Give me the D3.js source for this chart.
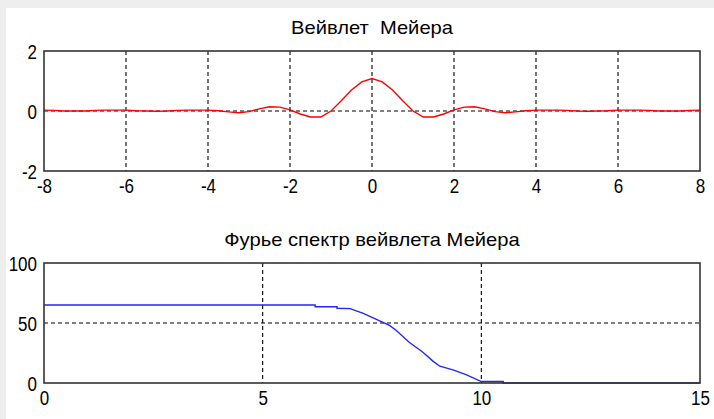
<!DOCTYPE html>
<html>
<head>
<meta charset="utf-8">
<script src="https://cdn.jsdelivr.net/npm/d3@7"></script>
<style>
  html, body { margin: 0; padding: 0; background: #ffffff; }
  svg { display: block; }
  text { font-family: "Liberation Sans", Arial, sans-serif; fill: #000; }
</style>
</head>
<body>
<script>
// Meyer wavelet psi(t), sampled values
const waveT = [-8, -7.75, -7.5, -7.25, -7, -6.75, -6.5, -6.25, -6, -5.75, -5.5, -5.25, -5, -4.75, -4.5, -4.25, -4, -3.75,
  -3.5, -3.25, -3, -2.75, -2.5, -2.25, -2, -1.75, -1.5, -1.25, -1, -0.75, -0.5, -0.25, 0,
  0.25, 0.5, 0.75, 1, 1.25, 1.5, 1.75, 2, 2.25, 2.5, 2.75, 3, 3.25, 3.5, 3.75, 4,
  4.25, 4.5, 4.75, 5, 5.25, 5.5, 5.75, 6, 6.25, 6.5, 6.75, 7, 7.25, 7.5, 7.75, 8];
const waveV = [0.03, 0.02, 0, 0, 0, 0.02, 0.03, 0.03, 0.03, 0.01, 0, -0.01, 0, 0.02, 0.03, 0.03, 0.03, 0.01,
  -0.03, -0.06, -0.02, 0.07, 0.14, 0.13, 0.04, -0.1, -0.2, -0.2, 0.0, 0.34, 0.7, 0.97, 1.08,
  0.97, 0.7, 0.34, 0.0, -0.2, -0.2, -0.1, 0.04, 0.13, 0.14, 0.07, -0.02, -0.06, -0.03, 0.01, 0.03,
  0.03, 0.03, 0.02, 0, -0.01, 0, 0.01, 0.03, 0.03, 0.03, 0.02, 0, 0, 0, 0.02, 0.03];

// Fourier spectrum magnitude of the Meyer wavelet
const specF = [0, 6.2, 6.2, 6.7, 6.7, 7.0, 7.3, 7.9, 8.05, 8.35, 8.65, 8.9, 9.05, 9.35, 9.65, 10.0, 10.5, 10.5, 15];
const specA = [65, 65, 63.6, 63.6, 62.3, 62, 58, 48, 44, 34, 26, 18, 14, 11, 7, 1.2, 1.2, 0, 0];

const waveXTicks = [-8, -6, -4, -2, 0, 2, 4, 6, 8];
const waveYTicks = [-2, 0, 2];
const specXTicks = [0, 5, 10, 15];
const specYTicks = [0, 50, 100];

const titleTop = "Вейвлет  Мейера";
const titleBottom = "Фурье спектр вейвлета Мейера";

const W = 714, H = 419;
const svg = d3.select("body").append("svg").attr("width", W).attr("height", H);
const fmt = d => String(d); // plain hyphen-minus, integer labels

// window frame
svg.append("rect").attr("width", W).attr("height", H).attr("fill", "#eeeeee");
svg.append("rect").attr("x", 6).attr("y", 8).attr("width", W - 6).attr("height", H - 8).attr("fill", "#ffffff");

function panel(opts) {
  const { x0, x1, y0, y1, xDom, yDom, xTicks, yTicks, xs, ys, color, title, titleY } = opts;
  const x = d3.scaleLinear().domain(xDom).range([x0, x1]);
  const y = d3.scaleLinear().domain(yDom).range([y1, y0]);
  const g = svg.append("g");

  // dashed grid
  g.append("g").selectAll("line").data(xTicks.slice(1, -1)).join("line")
    .attr("x1", d => x(d)).attr("x2", d => x(d)).attr("y1", y0).attr("y2", y1)
    .attr("stroke", "#000").attr("stroke-width", 1.1).attr("stroke-dasharray", "4,3");
  g.append("g").selectAll("line").data(yTicks.slice(1, -1)).join("line")
    .attr("y1", d => y(d)).attr("y2", d => y(d)).attr("x1", x0).attr("x2", x1)
    .attr("stroke", "#000").attr("stroke-width", 1.1).attr("stroke-dasharray", "4,3");

  // data line
  const pts = xs.map((v, i) => [v, ys[i]]);
  g.append("path").datum(pts)
    .attr("fill", "none").attr("stroke", color).attr("stroke-width", 1.4)
    .attr("d", d3.line().x(d => x(d[0])).y(d => y(d[1])));

  // box
  g.append("rect").attr("x", x0).attr("y", y0).attr("width", x1 - x0).attr("height", y1 - y0)
    .attr("fill", "none").attr("stroke", "#333").attr("stroke-width", 1.6);

  // axes labels
  const xa = d3.axisBottom(x).tickValues(xTicks).tickFormat(fmt).tickSize(0).tickPadding(0);
  const xg = g.append("g").attr("transform", `translate(0,${y1})`).call(xa);
  xg.select(".domain").remove();
  xg.selectAll("text").attr("font-size", 17).attr("dy", null).attr("y", 0)
    .attr("transform", "translate(0,22) scale(1,1.22)")
    .attr("font-family", '"Liberation Sans", Arial, sans-serif').attr("fill", "#000");

  const ya = d3.axisLeft(y).tickValues(yTicks).tickFormat(fmt).tickSize(0).tickPadding(0);
  const yg = g.append("g").attr("transform", `translate(${x0 - 7},0)`).call(ya);
  yg.select(".domain").remove();
  yg.selectAll("text").attr("font-size", 17).attr("dy", null).attr("x", 0)
    .attr("transform", "translate(0,7) scale(1,1.22)")
    .attr("font-family", '"Liberation Sans", Arial, sans-serif').attr("fill", "#000");

  svg.append("text").attr("x", 0).attr("y", 0)
    .attr("transform", `translate(${(x0 + x1) / 2},${titleY}) scale(1.12,1)`)
    .attr("text-anchor", "middle").attr("font-size", 18)
    .style("white-space", "pre").text(title);
}

panel({ x0: 44, x1: 700, y0: 51, y1: 171, xDom: [-8, 8], yDom: [-2, 2],
  xTicks: waveXTicks, yTicks: waveYTicks, xs: waveT, ys: waveV, color: "#ff0000",
  title: titleTop, titleY: 34 });

panel({ x0: 44, x1: 700, y0: 263, y1: 383, xDom: [0, 15], yDom: [0, 100],
  xTicks: specXTicks, yTicks: specYTicks, xs: specF, ys: specA, color: "#2424ff",
  title: titleBottom, titleY: 246 });
</script>
</body>
</html>
